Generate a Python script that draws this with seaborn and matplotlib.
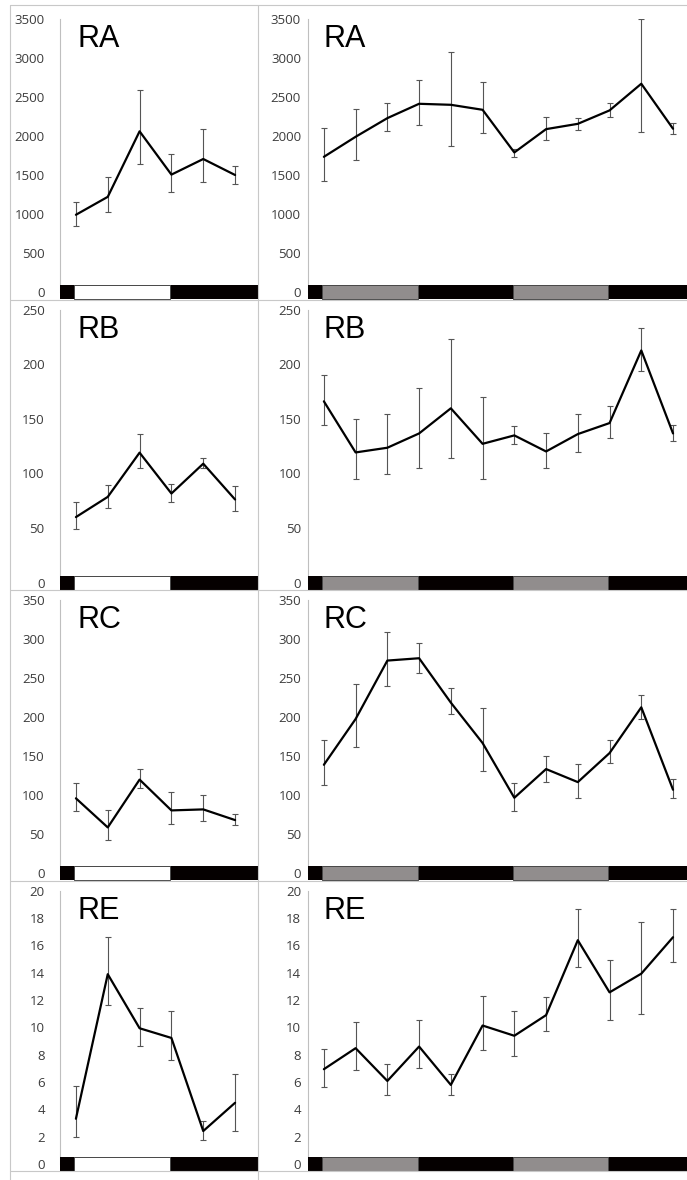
import numpy as np
import pandas as pd
import matplotlib
matplotlib.use("Agg")
import matplotlib.pyplot as plt
from matplotlib.lines import Line2D
import seaborn as sns

sns.set_style("white")
plt.rcParams['font.family'] = ['Open Sans', 'DejaVu Sans']

# ---- data (mean, upper bar end, lower bar end) ----
ra_left_mean = [990, 1220, 2060, 1505, 1705, 1500]
ra_left_hi = [1155, 1476, 2584, 1771, 2084, 1617]
ra_left_lo = [851, 1023, 1639, 1288, 1412, 1391]

ra_right_mean = [1733, 1990, 2229, 2413, 2400, 2336, 1789, 2088, 2156, 2328, 2670, 2093]
ra_right_hi = [2101, 2340, 2417, 2721, 3081, 2687, 1827, 2242, 2229, 2421, 3500, 2169]
ra_right_lo = [1429, 1694, 2058, 2135, 1874, 2037, 1729, 1955, 2079, 2238, 2045, 2028]

rb_left_mean = [60, 78.5, 119, 81.6, 108.9, 76.1]
rb_left_hi = [73.9, 89.3, 136.2, 90.2, 114.1, 88.3]
rb_left_lo = [48.8, 68.1, 104.6, 73.6, 104.6, 65.3]

rb_right_mean = [166, 119.2, 123.5, 136.6, 159.6, 127.1, 134.8, 120.1, 136, 146.1, 212.6, 136.6]
rb_right_hi = [190.3, 149.8, 154.7, 178.6, 223.3, 170, 143.7, 136.9, 154.7, 161.5, 233.5, 144.6]
rb_right_lo = [144.3, 94.7, 99, 104.8, 114, 95.3, 126.5, 105.4, 119.8, 132.4, 193.6, 129.6]

rc_left_mean = [96, 58.7, 120, 80.5, 81.8, 68.1]
rc_left_hi = [115.7, 80.5, 134.1, 103.7, 100.7, 75.8]
rc_left_lo = [79.7, 42, 108.8, 63.4, 67.3, 61.3]

rc_right_mean = [139, 197.7, 272.6, 275.6, 218.7, 166.9, 96.7, 133.5, 116.8, 154, 212.7, 107]
rc_right_hi = [171.2, 243, 309.4, 295.7, 237.9, 212.2, 115.5, 150.6, 139.5, 171.2, 228.9, 121.1]
rc_right_lo = [112.5, 162.2, 239.6, 257.2, 203.7, 131.4, 80, 117.2, 96.7, 141.6, 197.7, 96.7]

re_left_mean = [3.3, 13.89, 9.93, 9.22, 2.4, 4.47]
re_left_hi = [5.7, 16.6, 11.42, 11.17, 3.13, 6.6]
re_left_lo = [1.96, 11.6, 8.63, 7.6, 1.76, 2.42]

re_right_mean = [6.93, 8.47, 6.07, 8.59, 5.78, 10.13, 9.38, 10.89, 16.38, 12.56, 13.93, 16.6]
re_right_hi = [8.42, 10.36, 7.32, 10.55, 6.61, 12.26, 11.16, 12.24, 18.65, 14.96, 17.75, 18.65]
re_right_lo = [5.65, 6.88, 5.02, 7.03, 5.04, 8.35, 7.88, 9.72, 14.39, 10.55, 10.94, 14.81]

labels = ["RA", "RB", "RC", "RE"]
y_max = [3500, 250, 350, 20]
y_step = [500, 50, 50, 2]

# light periods (in time-point units) for the bar under each panel
left_light = [(0, 3)]
right_light = [(0, 3), (6, 9)]

panels = [
    [(ra_left_mean, ra_left_hi, ra_left_lo), (ra_right_mean, ra_right_hi, ra_right_lo)],
    [(rb_left_mean, rb_left_hi, rb_left_lo), (rb_right_mean, rb_right_hi, rb_right_lo)],
    [(rc_left_mean, rc_left_hi, rc_left_lo), (rc_right_mean, rc_right_hi, rc_right_lo)],
    [(re_left_mean, re_left_hi, re_left_lo), (re_right_mean, re_right_hi, re_right_lo)],
]

W, H = 687, 1180
fig = plt.figure(figsize=(W / 100, H / 100), dpi=100)
fig.patch.set_facecolor("white")


def px_axes(x0, x1, ytop, ybot):
    return fig.add_axes([x0 / W, 1 - ybot / H, (x1 - x0) / W, (ybot - ytop) / H])


border = "#c8c8c8"
half_bar = 7  # px

for r in range(4):
    ytop = 19 + 290.6 * r
    yzero = ytop + 273
    ybot = yzero + half_bar
    ymax = y_max[r]
    ymin = -half_bar / 273 * ymax

    for c in range(2):
        mean, hi, lo = panels[r][c]
        n = len(mean)
        if c == 0:
            ax = px_axes(60, 258, ytop, ybot)
            xlim = (-0.5, 5.72)
            light, light_col = left_light, "white"
            pad = 7
        else:
            ax = px_axes(308, 687, ytop, ybot)
            xlim = (-0.5, 11.44)
            light, light_col = right_light, "#918d8d"
            pad = 1

        df = pd.DataFrame({"t": np.arange(n), "v": mean})
        yerr = [np.array(mean) - np.array(lo), np.array(hi) - np.array(mean)]
        ax.errorbar(df["t"], df["v"], yerr=yerr, fmt="none", ecolor="#555555",
                    elinewidth=0.8, capsize=2, capthick=0.8, zorder=2)
        sns.lineplot(data=df, x="t", y="v", color="black", linewidth=1.6,
                     ax=ax, zorder=3)

        # light/dark bar along the bottom
        ax.broken_barh([(xlim[0], xlim[1] - xlim[0])], (ymin, -2 * ymin),
                       facecolors="#050000", edgecolor="none", zorder=4,
                       clip_on=False)
        ax.broken_barh([(a - 0.05, b - a) for a, b in light], (ymin, -2 * ymin),
                       facecolors=light_col, edgecolor="#4a4a4a", linewidth=0.7,
                       zorder=5, clip_on=False)

        ticks = np.arange(0, ymax + y_step[r] / 2, y_step[r])
        ax.set_xlim(*xlim)
        ax.set_ylim(ymin, ymax)
        ax.set_yticks(ticks)
        ax.set_yticklabels([f"{v:g}" for v in ticks])
        ax.set_xticks([])
        ax.set_xlabel("")
        ax.set_ylabel("")
        for s in ["top", "right", "bottom"]:
            ax.spines[s].set_visible(False)
        ax.spines["left"].set_color("#bfbfbf")
        ax.spines["left"].set_linewidth(0.8)
        ax.spines["left"].set_bounds(0, ymax)
        ax.tick_params(axis="y", direction="out", length=4, width=0.8,
                       color="#bfbfbf", labelsize=9.5, labelcolor="#3c3c3c", pad=pad)
        ax.patch.set_alpha(0)

        lx = (78 - 60) / 198 if c == 0 else (323 - 308) / 379
        ax.text(lx, 1 - 28 / 280, labels[r], transform=ax.transAxes,
                fontsize=22, family="Liberation Sans", va="baseline", ha="left",
                color="black")

    # row separator line
    fig.add_artist(Line2D([10 / W, 1], [1 - (ybot + 0.5) / H] * 2,
                          color=border, linewidth=0.8))

# outer chart-area borders
fig.add_artist(Line2D([10 / W, 10 / W], [0, 1 - 5 / H], color=border, linewidth=0.8))
fig.add_artist(Line2D([258 / W, 258 / W], [0, 1 - 5 / H], color=border, linewidth=0.8))
fig.add_artist(Line2D([10 / W, 1], [1 - 5 / H] * 2, color=border, linewidth=0.8))

plt.savefig("out.png", dpi=100)
